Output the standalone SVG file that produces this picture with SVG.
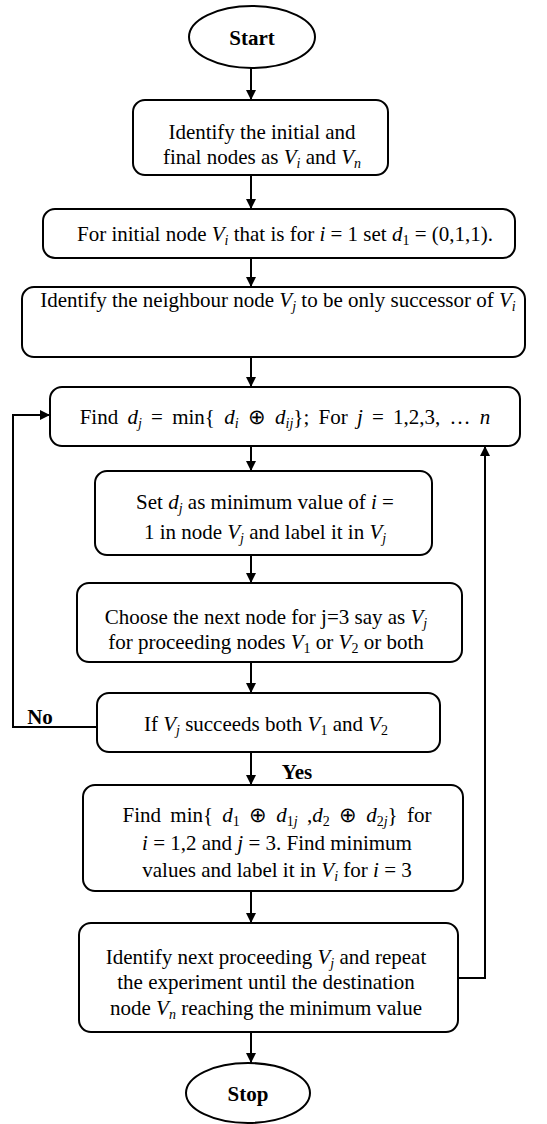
<svg xmlns="http://www.w3.org/2000/svg" width="547" height="1124" viewBox="0 0 547 1124">
<style>
.box{fill:#fff;stroke:#000;stroke-width:2}
.t{font-family:"Liberation Serif","Times New Roman",serif;font-size:21px;fill:#000;text-anchor:middle}
.b{font-weight:bold}
.i{font-style:italic}
.s{font-size:14px}
.w{word-spacing:4px}
.conn{stroke:#000;stroke-width:2;fill:none}
</style>
<defs>
<marker id="ah" viewBox="0 0 10 10" refX="10" refY="5" markerWidth="5" markerHeight="5" orient="auto" markerUnits="strokeWidth">
<path d="M0,0 L10,5 L0,10 z" fill="#000"/>
</marker>
</defs>
<rect width="547" height="1124" fill="#fff"/>
<g id="connectors">
<line class="conn" x1="251" y1="68" x2="251" y2="100" marker-end="url(#ah)"/>
<line class="conn" x1="251" y1="175" x2="251" y2="209" marker-end="url(#ah)"/>
<line class="conn" x1="251" y1="258" x2="251" y2="287" marker-end="url(#ah)"/>
<line class="conn" x1="251" y1="357" x2="251" y2="387" marker-end="url(#ah)"/>
<line class="conn" x1="251" y1="446" x2="251" y2="471" marker-end="url(#ah)"/>
<line class="conn" x1="251" y1="555" x2="251" y2="583" marker-end="url(#ah)"/>
<line class="conn" x1="251" y1="662" x2="251" y2="693" marker-end="url(#ah)"/>
<line class="conn" x1="251" y1="752" x2="251" y2="785" marker-end="url(#ah)"/>
<line class="conn" x1="251" y1="891" x2="251" y2="923" marker-end="url(#ah)"/>
<line class="conn" x1="251" y1="1032" x2="251" y2="1063" marker-end="url(#ah)"/>
<polyline class="conn" points="97,727 13,727 13,415 50,415" marker-end="url(#ah)"/>
<polyline class="conn" points="458,978 485,978 485,446" marker-end="url(#ah)"/>
<text class="t b" x="40" y="724" font-size="23">No</text>
<text class="t b" x="297" y="779" font-size="24">Yes</text>
</g>
<g id="start">
<ellipse class="box" cx="252" cy="37" rx="63" ry="31"/>
<text class="t b" x="252" y="45" font-size="24">Start</text>
</g>
<g id="n1">
<rect class="box" x="133" y="100" width="255" height="75" rx="12"/>
<text class="t" x="262" y="139">Identify the initial and</text>
<text class="t" x="262" y="164">final nodes as <tspan class="i">V</tspan><tspan class="s i" dy="4">i</tspan><tspan dy="-4"> and </tspan><tspan class="i">V</tspan><tspan class="s i" dy="4">n</tspan></text>
</g>
<g id="n2">
<rect class="box" x="43" y="209" width="472" height="49" rx="12"/>
<text class="t" x="285" y="241">For initial node <tspan class="i">V</tspan><tspan class="s i" dy="4">i</tspan><tspan dy="-4"> that is for </tspan><tspan class="i">i</tspan> = 1 set <tspan class="i">d</tspan><tspan class="s" dy="4">1</tspan><tspan dy="-4"> = (0,1,1).</tspan></text>
</g>
<g id="n3">
<rect class="box" x="22" y="287" width="503" height="70" rx="12"/>
<text class="t" x="278" y="307">Identify the neighbour node <tspan class="i">V</tspan><tspan class="s i" dy="4">j</tspan><tspan dy="-4"> to be only successor of </tspan><tspan class="i">V</tspan><tspan class="s i" dy="4">i</tspan></text>
</g>
<g id="n4">
<rect class="box" x="50" y="387" width="470" height="59" rx="12"/>
<text class="t w" x="285" y="424">Find <tspan class="i">d</tspan><tspan class="s i" dy="4">j</tspan><tspan dy="-4"> = min{ </tspan><tspan class="i">d</tspan><tspan class="s i" dy="4">i</tspan><tspan dy="-4"> ⊕  </tspan><tspan class="i">d</tspan><tspan class="s i" dy="4">ij</tspan><tspan dy="-4">}; For </tspan><tspan class="i">j</tspan> = 1,2,3, … <tspan class="i">n</tspan></text>
</g>
<g id="n5">
<rect class="box" x="95" y="471" width="337" height="84" rx="12"/>
<text class="t" x="265" y="509">Set  <tspan class="i">d</tspan><tspan class="s i" dy="4">j</tspan><tspan dy="-4"> as minimum value of  </tspan><tspan class="i">i</tspan> =</text>
<text class="t" x="265" y="539">1 in node  <tspan class="i">V</tspan><tspan class="s i" dy="4">j</tspan><tspan dy="-4"> and label it in  </tspan><tspan class="i">V</tspan><tspan class="s i" dy="4">j</tspan></text>
</g>
<g id="n6">
<rect class="box" x="77" y="583" width="385" height="79" rx="12"/>
<text class="t" x="266" y="624">Choose the next node for j=3 say as  <tspan class="i">V</tspan><tspan class="s i" dy="4">j</tspan></text>
<text class="t" x="266" y="649">for proceeding nodes  <tspan class="i">V</tspan><tspan class="s" dy="4">1</tspan><tspan dy="-4"> or  </tspan><tspan class="i">V</tspan><tspan class="s" dy="4">2</tspan><tspan dy="-4"> or both</tspan></text>
</g>
<g id="n7">
<rect class="box" x="97" y="693" width="343" height="59" rx="12"/>
<text class="t" x="266" y="731">If <tspan class="i">V</tspan><tspan class="s i" dy="4">j</tspan><tspan dy="-4">  succeeds both </tspan><tspan class="i">V</tspan><tspan class="s" dy="4">1</tspan><tspan dy="-4"> and  </tspan><tspan class="i">V</tspan><tspan class="s" dy="4">2</tspan></text>
</g>
<g id="n8">
<rect class="box" x="83" y="785" width="380" height="106" rx="12"/>
<text class="t w" x="277" y="822">Find min{ <tspan class="i">d</tspan><tspan class="s" dy="4">1</tspan><tspan dy="-4"> ⊕ </tspan><tspan class="i">d</tspan><tspan class="s" dy="4">1</tspan><tspan class="s i">j</tspan><tspan dy="-4"> ,</tspan><tspan class="i">d</tspan><tspan class="s" dy="4">2</tspan><tspan dy="-4"> ⊕ </tspan><tspan class="i">d</tspan><tspan class="s" dy="4">2</tspan><tspan class="s i">j</tspan><tspan dy="-4">} for</tspan></text>
<text class="t" x="277" y="850"><tspan class="i">i</tspan> = 1,2 and <tspan class="i">j</tspan> = 3. Find minimum</text>
<text class="t" x="277" y="877">values and label it in  <tspan class="i">V</tspan><tspan class="s i" dy="4">i</tspan><tspan dy="-4">  for </tspan><tspan class="i">i</tspan> = 3</text>
</g>
<g id="n9">
<rect class="box" x="79" y="923" width="379" height="109" rx="12"/>
<text class="t" x="266" y="964">Identify next proceeding  <tspan class="i">V</tspan><tspan class="s i" dy="4">j</tspan><tspan dy="-4"> and repeat</tspan></text>
<text class="t" x="266" y="989">the experiment  until the destination</text>
<text class="t" x="266" y="1015">node  <tspan class="i">V</tspan><tspan class="s i" dy="4">n</tspan><tspan dy="-4">   reaching  the minimum  value</tspan></text>
</g>
<g id="stop">
<ellipse class="box" cx="248" cy="1093" rx="62" ry="30"/>
<text class="t b" x="248" y="1101" font-size="24">Stop</text>
</g>
</svg>
